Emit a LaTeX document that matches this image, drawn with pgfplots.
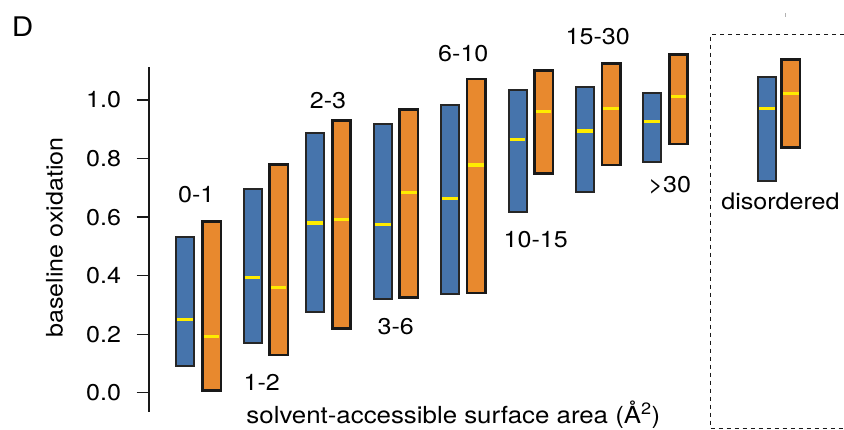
\documentclass[border=0pt]{standalone}
\usepackage{pgfplots}
\pgfplotsset{compat=1.18}
\usepgfplotslibrary{statistics}
\usepackage{fontspec}
\setmainfont{TeX Gyre Heros}[FakeStretch=1.1]
\definecolor{cblue}{RGB}{70,116,172}
\definecolor{corange}{RGB}{232,137,46}
\definecolor{cyellow}{RGB}{255,236,0}
\newcommand\lab{\fontsize{22.8}{27}\selectfont}
\pgfplotsset{
  bluebox/.style={
    draw=black!85, line width=2pt, fill=cblue,
    boxplot/draw direction=y,
    boxplot/box extend=0.18,
    boxplot/whisker extend=0,
    boxplot/every box/.style={draw=black!85, fill=cblue, line width=2pt},
    boxplot/every whisker/.style={draw=none},
    boxplot/every median/.style={draw=cyellow, line width=3.2pt, shorten <=1.1pt, shorten >=1.1pt},
  },
  orangebox/.style={
    draw=black!90, line width=2.7pt, fill=corange,
    boxplot/draw direction=y,
    boxplot/box extend=0.183,
    boxplot/whisker extend=0,
    boxplot/every box/.style={draw=black!90, fill=corange, line width=2.7pt},
    boxplot/every whisker/.style={draw=none},
    boxplot/every median/.style={draw=cyellow, line width=3.2pt, shorten <=1.4pt, shorten >=1.4pt},
  },
}
% args: position, low, median, high
\newcommand\bbox[4]{\addplot[bluebox, boxplot prepared={draw position=#1, lower whisker=#2, lower quartile=#2, median=#3, upper quartile=#4, upper whisker=#4}] coordinates {};}
\newcommand\obox[4]{\addplot[orangebox, boxplot prepared={draw position=#1, lower whisker=#2, lower quartile=#2, median=#3, upper quartile=#4, upper whisker=#4}] coordinates {};}
\begin{document}
\begin{tikzpicture}
\path[use as bounding box] (0,0) rectangle (844pt,429pt);
\begin{axis}[
  at={(149pt,17.3pt)}, anchor=south west,
  scale only axis, width=695pt, height=344.7pt,
  xmin=1.49, xmax=8.44, ymin=-0.065, ymax=1.113,
  clip=false,
  axis x line=none, axis y line=left,
  y axis line style={-, line width=1.3pt, black!90},
  xtick=\empty,
  ytick={0,0.2,0.4,0.6,0.8,1.0},
  ytick align=outside, major tick length=12.3pt,
  ytick style={line width=1.3pt, black!90},
  yticklabel style={font=\lab, anchor=east, inner sep=0pt, xshift=-15.5pt},
  /pgf/number format/.cd, fixed, fixed zerofill, precision=1, assume math mode=true,
]
\bbox{1.853}{0.090}{0.251}{0.532}
\obox{2.117}{0.008}{0.193}{0.585}
\bbox{2.525}{0.171}{0.394}{0.695}
\obox{2.787}{0.129}{0.360}{0.779}
\bbox{3.153}{0.276}{0.580}{0.887}
\obox{3.415}{0.219}{0.593}{0.929}
\bbox{3.827}{0.319}{0.574}{0.917}
\obox{4.088}{0.325}{0.685}{0.968}
\bbox{4.503}{0.336}{0.663}{0.982}
\obox{4.762}{0.341}{0.778}{1.072}
\bbox{5.175}{0.616}{0.866}{1.033}
\obox{5.437}{0.748}{0.960}{1.100}
\bbox{5.850}{0.686}{0.894}{1.043}
\obox{6.112}{0.778}{0.970}{1.125}
\bbox{6.523}{0.789}{0.928}{1.023}
\obox{6.785}{0.850}{1.013}{1.155}
\bbox{7.673}{0.723}{0.970}{1.080}
\obox{7.908}{0.838}{1.022}{1.138}
\end{axis}
% group labels
\node[font=\lab] at (196.2pt,234.3pt) {0-1};
\node[font=\lab] at (261.8pt,47pt) {1-2};
\node[font=\lab] at (328pt,328.3pt) {2-3};
\node[font=\lab] at (395.8pt,102.3pt) {3-6};
\node[font=\lab] at (463.3pt,375.7pt) {6-10};
\node[font=\lab] at (535.8pt,189pt) {10-15};
\node[font=\lab] at (597.8pt,392.3pt) {15-30};
\node[font=\lab] at (669.7pt,244pt) {>30};
\node[font=\lab] at (780.5pt,228pt) {disordered};
% axis labels
\node[font=\fontsize{23.5}{27}\selectfont, anchor=base] at (453.4pt,5.7pt) {solvent-accessible surface area (Å\textsuperscript{2})};
\node[font=\lab, rotate=90, anchor=base] at (62.7pt,191.5pt) {baseline oxidation};
\node[font=\fontsize{27}{30}\selectfont] at (22.5pt,402.7pt) {D};
% dashed panel
\draw[dash pattern=on 4pt off 4pt, line width=1.5pt, black!90] (860pt,394.7pt) -- (710.3pt,394.7pt) -- (710.3pt,0.7pt) -- (860pt,0.7pt);
\draw[gray!60, line width=0.6pt] (785.7pt,416pt) -- (785.7pt,412pt);
\end{tikzpicture}
\end{document}
